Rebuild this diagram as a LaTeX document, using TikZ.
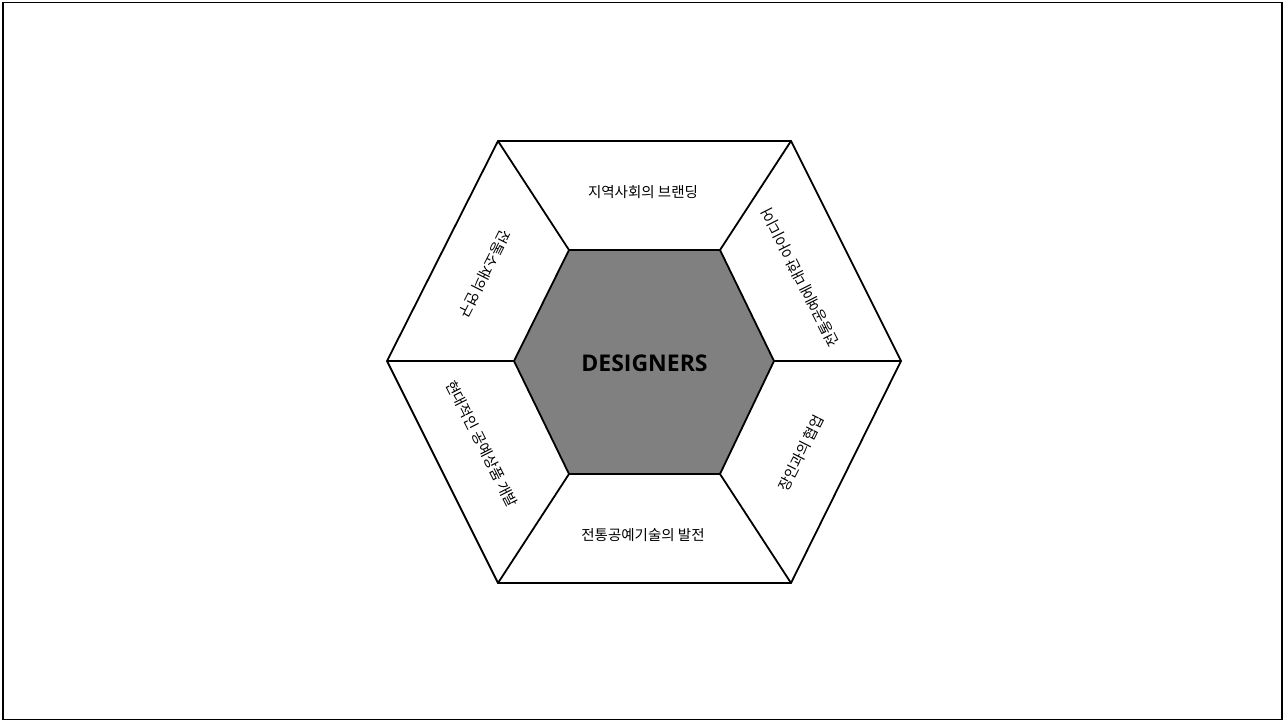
\documentclass[tikz,border=0pt]{standalone}
\usepackage{fontspec}
\setmainfont{Open Sans}
\newfontfamily\krfont{Noto Sans CJK KR}
\usetikzlibrary{calc}

\definecolor{coregray}{RGB}{128,128,128}
\definecolor{inkline}{RGB}{0,0,0}

\tikzset{
  hexline/.style={draw=inkline, line width=1.8pt, line join=miter},
  ringblock/.style={hexline, fill=white},
  coreblock/.style={hexline, fill=coregray},
  segtext/.style={font=\krfont\fontsize{14.5}{17}\selectfont, inner sep=0pt},
  coretext/.style={font=\bfseries\fontsize{23}{27}\selectfont, inner sep=0pt},
  framebox/.style={draw=inkline, line width=1.8pt}
}

\begin{document}
\begin{tikzpicture}[x=1pt, y=1pt]
  \useasboundingbox (0,0) rectangle (1284,-721);
  \draw[framebox] (3,-2.5) rectangle (1282,-719.5);

  % Outer hexagon
  \coordinate (o_l)  at (387,-361);
  \coordinate (o_tl) at (498,-141);
  \coordinate (o_tr) at (791,-141);
  \coordinate (o_r)  at (901,-361);
  \coordinate (o_br) at (791,-583);
  \coordinate (o_bl) at (498,-583);

  % Inner hexagon
  \coordinate (i_l)  at (514,-361);
  \coordinate (i_tl) at (569,-250);
  \coordinate (i_tr) at (720,-250);
  \coordinate (i_r)  at (774,-361);
  \coordinate (i_br) at (720,-474);
  \coordinate (i_bl) at (569,-474);

  \draw[ringblock] (o_l) -- (o_tl) -- (o_tr) -- (o_r) -- (o_br) -- (o_bl) -- cycle;
  \foreach \c in {l,tl,tr,r,br,bl}
    \draw[hexline] (i_\c) -- (o_\c);
  \draw[coreblock] (i_l) -- (i_tl) -- (i_tr) -- (i_r) -- (i_br) -- (i_bl) -- cycle;

  \node[coretext] (core) at (644.5,-363.5) {DESIGNERS};

  % Segment labels
  \node[segtext] (seg_top) at (643,-192) {지역사회의 브랜딩};
  \node[segtext, rotate=116.8] (seg_upright) at (800,-277.5) {전통공예에 대한 아이디어};
  \node[segtext, rotate=63.2] (seg_lowright) at (801,-453) {장인과의 협업};
  \node[segtext] (seg_bottom) at (643,-535) {전통공예기술의 발전};
  \node[segtext, rotate=-63.2] (seg_lowleft) at (482,-444) {현대적인 공예상품 개발};
  \node[segtext, rotate=-116.8] (seg_upleft) at (485,-274) {전통소재의 연구};
\end{tikzpicture}
\end{document}
